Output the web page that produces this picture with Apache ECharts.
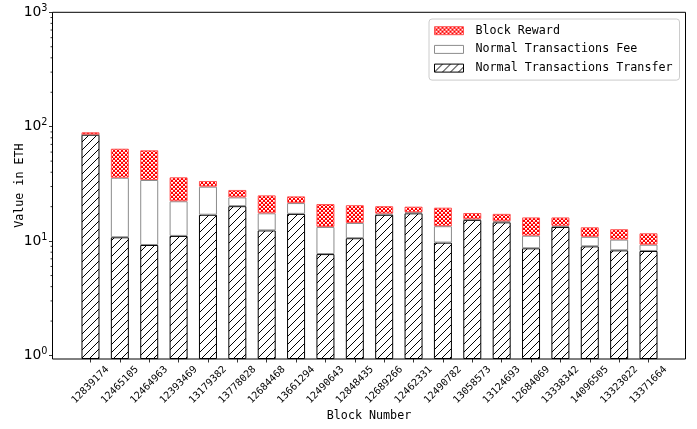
<!DOCTYPE html>
<html><head><meta charset="utf-8">
<script src="https://cdn.jsdelivr.net/npm/echarts@6/dist/echarts.min.js"></script>
<style>html,body{margin:0;padding:0;background:#fff}#c{width:697px;height:429px}</style>
</head><body><div id="c"></div>
<script>
const categories = ['12839174','12465105','12464963','12393469','13179382','13778028','12684468','13661294','12490643','12848435','12689266','12462331','12490782','13058573','13124693','12684069','13338342','14096505','13323022','13371664'];
const transfer = [85.0, 10.8, 9.25, 11.1, 17.0, 20.2, 12.4, 17.3, 7.7, 10.6, 17.0, 17.5, 9.7, 15.3, 14.6, 8.65, 13.3, 9.0, 8.3, 8.2];
const fee      = [0.3, 25.0, 24.95, 11.2, 12.9, 3.9, 5.1, 4.2, 5.6, 3.8, 0.4, 0.35, 3.8, 0.2, 0.3, 2.5, 0.3, 1.9, 2.0, 1.1];
const reward   = [4.1, 28.4, 28.0, 13.8, 3.6, 3.9, 7.6, 3.1, 7.8, 6.2, 2.8, 2.15, 6.1, 2.1, 2.4, 4.95, 2.5, 2.3, 2.4, 2.4];
const yMajorTicks = [1, 10, 100, 1000];
const yMinorTicks = [2,3,4,5,6,7,8,9,20,30,40,50,60,70,80,90,200,300,400,500,600,700,800,900];
const seriesNames = ['Block Reward','Normal Transactions Fee','Normal Transactions Transfer'];

const MONO = '"DejaVu Sans Mono", "Liberation Mono", monospace';

function hatchPattern() {
  const c = document.createElement('canvas');
  c.width = 8; c.height = 8;
  const g = c.getContext('2d');
  g.fillStyle = '#fff'; g.fillRect(0,0,8,8);
  g.strokeStyle = '#000'; g.lineWidth = 1;
  g.beginPath();
  g.moveTo(-1,9); g.lineTo(9,-1);
  g.moveTo(-1,1); g.lineTo(1,-1);
  g.moveTo(7,9); g.lineTo(9,7);
  g.stroke();
  return c;
}
function crossPattern() {
  const c = document.createElement('canvas');
  c.width = 4; c.height = 4;
  const g = c.getContext('2d');
  g.fillStyle = '#ff0000'; g.fillRect(0,0,4,4);
  g.fillStyle = '#ffffff';
  g.fillRect(1,0,2,1);
  g.fillRect(0,2,1,1); g.fillRect(3,2,1,1);
  g.fillStyle = '#ffb4b4';
  g.fillRect(1,1,2,1);
  g.fillRect(0,3,1,1); g.fillRect(3,3,1,1);
  return c;
}

const chart = echarts.init(document.getElementById('c'), null, {renderer:'canvas'});
const yMin = 0.932, yMax = 1000;
chart.setOption({
  animation: false,
  backgroundColor: '#fff',
  grid: [
    {left: 52.5, right: 11.5, top: 12.3, bottom: 70, show: true, borderColor: '#000', borderWidth: 1, backgroundColor: 'transparent', z: 10},
    {left: 75.8, right: 33.8, top: 12.3, bottom: 70}
  ],
  legend: {
    data: seriesNames, orient: 'vertical', left: 429, top: 19,
    padding: [4.7, 7, 5, 5], itemWidth: 29, itemHeight: 8, itemGap: 4.7,
    backgroundColor: '#fff', borderColor: '#cccccc', borderWidth: 1, borderRadius: 3,
    icon: 'rect', selectedMode: false, z: 20,
    itemStyle: {borderWidth: 1},
    textStyle: {fontFamily: MONO, fontSize: 11.7, color: '#000', lineHeight: 14, padding: [0,0,0,7]}
  },
  xAxis: [
    {type: 'value', gridIndex: 0, min: 0, max: 1,
     axisLine: {show: false}, axisTick: {show: false}, axisLabel: {show: false}, splitLine: {show: false},
     name: 'Block Number', nameLocation: 'middle', nameGap: 56.5, nameMoveOverlap: false,
     nameTextStyle: {fontFamily: MONO, fontSize: 11.7, color: '#000', verticalAlign: 'middle'}},
    {type: 'category', gridIndex: 1, data: categories,
     axisLine: {show: false},
     axisTick: {show: true, alignWithLabel: true, length: 3.5, lineStyle: {color: '#000', width: 0.8}},
     axisLabel: {interval: 0, rotate: 45, align: 'center', verticalAlign: 'middle', margin: 26,
                 fontFamily: MONO, fontSize: 10, color: '#000'},
     splitLine: {show: false}}
  ],
  yAxis: [
    {type: 'log', gridIndex: 0, logBase: 10, min: yMin, max: yMax,
     name: 'Value in ETH', nameLocation: 'middle', nameGap: 33, nameRotate: 90, nameMoveOverlap: false,
     nameTextStyle: {fontFamily: MONO, fontSize: 11.7, color: '#000', verticalAlign: 'middle'},
     axisLine: {show: false}, splitLine: {show: false},
     axisTick: {show: true, length: 3.5, customValues: yMajorTicks, lineStyle: {color: '#000', width: 0.8}},
     axisLabel: {customValues: yMajorTicks, margin: 5,
       formatter: v => '{b|10}{s|' + Math.round(Math.log10(v)) + '}',
       rich: {
         b: {fontFamily: '"DejaVu Sans"', fontSize: 13.9, color: '#000', lineHeight: 18},
         s: {fontFamily: '"DejaVu Sans"', fontSize: 9.7, color: '#000', verticalAlign: 'top'}
       }}},
    {type: 'log', gridIndex: 1, logBase: 10, min: yMin, max: yMax, startValue: yMin, show: false}
  ],
  series: [
    {name: 'Normal Transactions Transfer', type: 'bar', xAxisIndex: 1, yAxisIndex: 1, stack: 'eth',
     data: transfer, barWidth: 18, emphasis: {disabled: true},
     itemStyle: {color: {image: hatchPattern(), repeat: 'repeat'}, borderColor: '#000', borderWidth: 1}},
    {name: 'Normal Transactions Fee', type: 'bar', xAxisIndex: 1, yAxisIndex: 1, stack: 'eth',
     data: fee, barWidth: 18, emphasis: {disabled: true},
     itemStyle: {color: '#fff', borderColor: '#8c8c8c', borderWidth: 1}},
    {name: 'Block Reward', type: 'bar', xAxisIndex: 1, yAxisIndex: 1, stack: 'eth',
     data: reward, barWidth: 18, emphasis: {disabled: true},
     itemStyle: {color: {image: crossPattern(), repeat: 'repeat'}, borderColor: '#ff5555', borderWidth: 1}},
    {type: 'custom', xAxisIndex: 0, yAxisIndex: 0, silent: true, clip: false, z: 11,
     data: yMinorTicks.map(v => [0, v]),
     renderItem: (params, api) => {
       const p = api.coord([0, api.value(1)]);
       return {type: 'line', shape: {x1: p[0] - 2, y1: p[1], x2: p[0], y2: p[1]},
               style: {stroke: '#000', lineWidth: 0.8}};
     }}
  ]
});
</script></body></html>
